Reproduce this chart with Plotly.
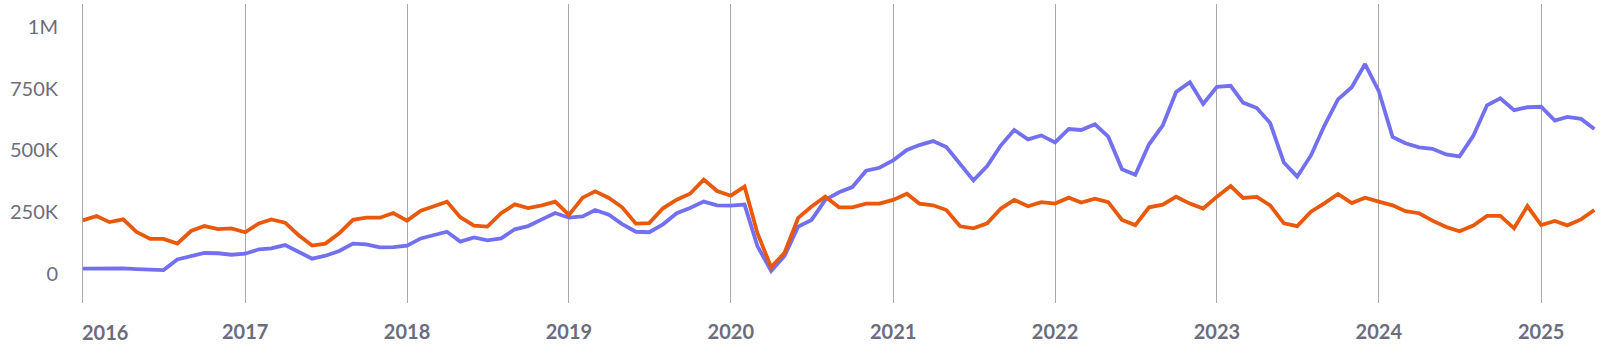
import plotly.graph_objects as go
import pandas as pd

months = pd.date_range("2016-01-01", "2025-05-01", freq="MS")

series_blue = [
    22, 23, 23, 23, 20, 19, 16, 59, 74, 85, 84, 78,
    82, 100, 104, 117, 90, 62, 74, 93, 123, 120, 108, 109,
    115, 144, 157, 171, 131, 148, 136, 144, 181, 194, 221, 247,
    228, 233, 259, 240, 202, 171, 169, 201, 246, 267, 293, 278,
    277, 281, 113, 12, 73, 192, 219, 300, 331, 352, 418, 430,
    460, 502, 522, 538, 514, 448, 379, 437, 521, 583, 545, 561,
    533, 587, 583, 606, 556, 424, 402, 525, 602, 737, 776, 688,
    758, 762, 694, 672, 611, 451, 394, 480, 603, 707, 756, 850,
    740, 555, 529, 513, 507, 484, 476, 559, 683, 711, 663, 675,
    677, 621, 636, 628, 587,
]

series_orange = [
    217, 235, 210, 221, 170, 142, 142, 123, 174, 194, 182, 185,
    169, 205, 221, 208, 158, 115, 123, 165, 219, 228, 228, 247,
    216, 256, 273, 293, 230, 196, 192, 246, 282, 267, 278, 293,
    239, 309, 335, 308, 270, 204, 206, 266, 301, 325, 382, 336,
    317, 354, 165, 27, 86, 227, 273, 313, 270, 270, 285, 285,
    300, 325, 285, 278, 259, 193, 185, 205, 265, 300, 274, 291,
    285, 309, 289, 305, 291, 219, 198, 270, 281, 313, 285, 265,
    313, 356, 308, 312, 278, 205, 194, 252, 287, 324, 287, 309,
    293, 278, 254, 246, 216, 190, 173, 196, 235, 235, 185, 275,
    198, 215, 197, 221, 259,
]

year_ticks = [f"{y}-01-01" for y in range(2016, 2026)]
year_labels = [str(y) for y in range(2016, 2026)]
y_ticks = [0, 250000, 500000, 750000, 1000000]
y_labels = ["0", "250K", "500K", "750K", "1M"]

BLUE = "#7370f0"
ORANGE = "#e8590c"
TEXT = "#6d6c7c"
FONT = "Lato"

fig = go.Figure()
fig.add_trace(go.Scatter(x=months, y=[v * 1000 for v in series_blue], mode="lines",
                         line=dict(color=BLUE, width=3.8), name="Blue"))
fig.add_trace(go.Scatter(x=months, y=[v * 1000 for v in series_orange], mode="lines",
                         line=dict(color=ORANGE, width=3.8), name="Orange"))

# First year label aligned to the left of its gridline
fig.add_annotation(x=year_ticks[0], xref="x", y=0, yref="paper", yshift=-15, xshift=-3,
                   text=f"<b>{year_labels[0]}</b>", showarrow=False,
                   xanchor="left", yanchor="top",
                   font=dict(family=FONT, size=20, color=TEXT))

fig.update_layout(
    width=1601, height=362,
    margin=dict(l=62, r=0, t=4, b=59, autoexpand=False),
    paper_bgcolor="white", plot_bgcolor="white",
    showlegend=False,
    font=dict(family=FONT, size=20, color=TEXT),
)
fig.update_xaxes(
    type="date",
    range=["2015-11-15", "2025-05-16"],
    tickvals=year_ticks,
    ticktext=[""] + [f"<b>{t}</b>" for t in year_labels[1:]],
    showgrid=True, gridcolor="#a9a9a9", gridwidth=1,
    showline=False, zeroline=False, ticks="",
    automargin=False,
    ticklabelstandoff=15,
    tickfont=dict(family=FONT, size=20, color=TEXT),
)
fig.update_yaxes(
    range=[-117400, 1093000],
    tickvals=y_ticks, ticktext=y_labels,
    showgrid=False, zeroline=False, showline=False, ticks="",
    automargin=False,
    ticklabelstandoff=3,
    tickfont=dict(family=FONT, size=20, color=TEXT),
)
# mimic the left clipping edge of the original container
fig.add_shape(type="rect", xref="paper", yref="paper",
              x0=-62 / 1539, x1=-52 / 1539, y0=-0.3, y1=1.1,
              fillcolor="white", line=dict(width=0), layer="above")

fig.write_html("out.html", config={"displayModeBar": False},
               post_script="document.body.style.margin='0';")
